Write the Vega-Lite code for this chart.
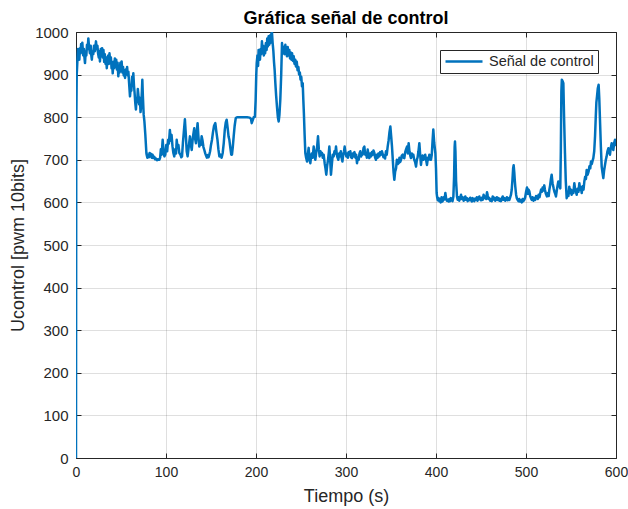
{
  "$schema": "https://vega.github.io/schema/vega-lite/v6.json",
  "autosize": {"type": "none"},
  "padding": {"left": 76, "top": 32, "right": 12, "bottom": 51},
  "width": 540,
  "height": 426,
  "background": "white",
  "title": {"text": "Gráfica señal de control", "font": "Liberation Sans", "fontSize": 18, "fontWeight": "bold", "color": "#000000", "anchor": "middle", "frame": "group", "offset": -3},
  "config": {
    "view": {"stroke": "#262626", "strokeWidth": 1},
    "axis": {
      "domain": false,
      "grid": true, "gridColor": "#262626", "gridOpacity": 0.15, "gridWidth": 1,
      "ticks": true, "tickColor": "#262626", "tickSize": -5, "tickWidth": 1,
      "labelFont": "Liberation Sans", "labelFontSize": 15, "labelColor": "#262626",
      "titleFont": "Liberation Sans", "titleFontSize": 18, "titleFontWeight": "normal", "titleColor": "#262626"
    },
    "legend": {
      "orient": "none", "legendX": 364, "legendY": 18,
      "strokeColor": "#262626", "fillColor": "white", "padding": 4, "cornerRadius": 0,
      "labelFont": "Liberation Sans", "labelFontSize": 14.5, "labelColor": "#262626", "labelOffset": 5,
      "symbolType": "stroke", "symbolSize": 1369, "symbolStrokeWidth": 2.5, "clipHeight": 15, "title": null
    }
  },
  "data": {"values": [
    {"t":0,"u":0},{"t":0.3,"u":780},{"t":0.8,"u":900},{"t":1.5,"u":930},{"t":2.2,"u":960},{"t":2.8,"u":940},{"t":3.7,"u":935},{"t":4.4,"u":962},{"t":5,"u":950},{"t":5.7,"u":972},{"t":6.3,"u":960},{"t":7,"u":975},{"t":8,"u":945},{"t":8.8,"u":960},{"t":9.4,"u":940},{"t":10,"u":927},{"t":10.8,"u":955},{"t":11.5,"u":945},{"t":12.2,"u":970},{"t":13,"u":960},{"t":13.7,"u":985},{"t":14.5,"u":965},{"t":15.5,"u":950},{"t":16.3,"u":968},{"t":17,"u":945},{"t":17.6,"u":935},{"t":18.4,"u":955},{"t":19.2,"u":948},{"t":20,"u":968},{"t":21,"u":955},{"t":22.2,"u":978},{"t":23,"u":960},{"t":23.8,"u":968},{"t":24.5,"u":950},{"t":25.3,"u":940},{"t":26,"u":955},{"t":26.6,"u":931},{"t":27.5,"u":960},{"t":28.3,"u":945},{"t":29,"u":962},{"t":29.8,"u":940},{"t":30.5,"u":958},{"t":31.3,"u":930},{"t":32,"u":948},{"t":32.8,"u":925},{"t":33.5,"u":940},{"t":34.2,"u":915},{"t":35,"u":938},{"t":35.8,"u":945},{"t":36.5,"u":925},{"t":37.2,"u":950},{"t":38,"u":930},{"t":38.8,"u":940},{"t":39.5,"u":915},{"t":40.2,"u":925},{"t":40.8,"u":903},{"t":41.6,"u":930},{"t":42.4,"u":915},{"t":43.2,"u":938},{"t":44,"u":920},{"t":44.7,"u":935},{"t":45.4,"u":912},{"t":46.2,"u":928},{"t":47,"u":896},{"t":47.8,"u":918},{"t":48.5,"u":905},{"t":49.3,"u":928},{"t":50,"u":912},{"t":50.7,"u":931},{"t":51.5,"u":905},{"t":52.3,"u":918},{"t":53,"u":898},{"t":53.8,"u":910},{"t":54.5,"u":892},{"t":55.3,"u":912},{"t":56,"u":900},{"t":56.8,"u":918},{"t":57.5,"u":898},{"t":58.2,"u":907},{"t":59,"u":880},{"t":60,"u":849},{"t":60.8,"u":870},{"t":61.5,"u":862},{"t":62.3,"u":895},{"t":63,"u":880},{"t":63.7,"u":903},{"t":64.4,"u":875},{"t":65,"u":860},{"t":65.8,"u":835},{"t":66.6,"u":818},{"t":67.3,"u":845},{"t":68,"u":835},{"t":68.7,"u":866},{"t":69.4,"u":850},{"t":70.2,"u":830},{"t":71,"u":845},{"t":71.7,"u":812},{"t":72.4,"u":825},{"t":73.2,"u":860},{"t":73.7,"u":888},{"t":74.3,"u":850},{"t":75.2,"u":806},{"t":76,"u":790},{"t":77,"u":760},{"t":78.2,"u":716},
    {"t":78.5,"u":712},{"t":79.3,"u":705},{"t":80.1,"u":712},{"t":81,"u":706},{"t":81.8,"u":716},{"t":82.6,"u":708},{"t":83.4,"u":714},{"t":84.2,"u":705},{"t":85,"u":712},{"t":86,"u":704},{"t":87,"u":707},{"t":88,"u":701},{"t":89,"u":703},{"t":90,"u":699},{"t":91,"u":701},{"t":92.6,"u":700},{"t":93.5,"u":705},{"t":94.3,"u":725},{"t":95.2,"u":712},{"t":96.3,"u":747},{"t":97.2,"u":720},{"t":98.2,"u":708},{"t":99.2,"u":712},{"t":100.3,"u":735},{"t":101.3,"u":720},{"t":102.4,"u":747},{"t":103.2,"u":738},{"t":104.3,"u":770},{"t":105.3,"u":745},{"t":106.2,"u":758},{"t":107.2,"u":732},{"t":108.2,"u":716},{"t":109.2,"u":708},{"t":110.2,"u":725},{"t":111.2,"u":715},{"t":111.9,"u":747},{"t":112.8,"u":728},{"t":113.8,"u":735},{"t":114.8,"u":716},{"t":116,"u":712},{"t":117,"u":706},{"t":117.8,"u":708},{"t":118.8,"u":740},{"t":120,"u":770},{"t":121,"u":795},{"t":122,"u":760},{"t":123,"u":720},{"t":124,"u":708},{"t":125,"u":725},{"t":125.8,"u":740},{"t":126.6,"u":755},{"t":127.7,"u":735},{"t":128.6,"u":723},{"t":129.5,"u":745},{"t":130.4,"u":760},{"t":131.4,"u":774},{"t":132.3,"u":750},{"t":133.3,"u":739},{"t":134.2,"u":765},{"t":135.1,"u":786},{"t":136,"u":755},{"t":137,"u":731},{"t":138,"u":742},{"t":138.8,"u":735},{"t":139.6,"u":755},{"t":140.6,"u":745},{"t":141.6,"u":730},{"t":142.6,"u":723},{"t":143.6,"u":715},{"t":144.5,"u":710},{"t":145.5,"u":705},{"t":146.5,"u":711},{"t":147.3,"u":706},{"t":148.1,"u":712},{"t":149,"u":720},{"t":150,"u":735},{"t":151.1,"u":747},{"t":152.2,"u":765},{"t":153.4,"u":780},{"t":154.8,"u":786},{"t":156,"u":765},{"t":157.2,"u":747},{"t":158.2,"u":725},{"t":159.3,"u":708},{"t":160.5,"u":712},{"t":161.8,"u":705},{"t":163,"u":716},{"t":164.2,"u":740},{"t":165.3,"u":770},{"t":166.4,"u":788},{"t":167.4,"u":794},{"t":168.5,"u":775},{"t":169.5,"u":755},{"t":170.4,"u":747},{"t":171.5,"u":728},{"t":172.5,"u":712},{"t":173.3,"u":712},{"t":174.2,"u":730},{"t":175.2,"u":755},{"t":176.3,"u":780},{"t":177.5,"u":798},{"t":179,"u":800},
    {"t":181.5,"u":800},{"t":186,"u":800},{"t":190,"u":800},{"t":193,"u":799},{"t":194.4,"u":796},{"t":195.2,"u":786},{"t":196.2,"u":792},{"t":197.5,"u":800},{"t":198.8,"u":801},{"t":199.6,"u":840},{"t":200.3,"u":900},{"t":200.8,"u":927},{"t":201.6,"u":945},{"t":202.3,"u":920},{"t":202.9,"u":958},{"t":203.6,"u":940},{"t":204.4,"u":935},{"t":205.1,"u":960},{"t":205.8,"u":948},{"t":206.6,"u":978},{"t":207.3,"u":955},{"t":208,"u":968},{"t":208.7,"u":945},{"t":209.4,"u":962},{"t":210.1,"u":950},{"t":211,"u":974},{"t":211.8,"u":958},{"t":212.5,"u":985},{"t":213.2,"u":966},{"t":214,"u":990},{"t":214.8,"u":970},{"t":215.5,"u":992},{"t":216.3,"u":975},{"t":217,"u":995},{"t":217.7,"u":1000},{"t":218.5,"u":974},{"t":219.3,"u":955},{"t":220,"u":930},{"t":220.7,"u":911},{"t":221.5,"u":880},{"t":222.4,"u":850},{"t":223.3,"u":825},{"t":224.3,"u":800},{"t":225.2,"u":790},{"t":226,"u":805},{"t":227,"u":841},{"t":228,"u":900},{"t":228.9,"u":974},{"t":229.8,"u":950},{"t":230.7,"u":965},{"t":231.6,"u":948},{"t":232.6,"u":970},{"t":233.5,"u":952},{"t":234.4,"u":943},{"t":235.2,"u":965},{"t":236.1,"u":945},{"t":237,"u":958},{"t":237.8,"u":938},{"t":238.6,"u":952},{"t":239.3,"u":935},{"t":240.1,"u":950},{"t":241,"u":932},{"t":241.9,"u":943},{"t":242.8,"u":925},{"t":243.6,"u":935},{"t":244.4,"u":919},{"t":245.3,"u":930},{"t":246.2,"u":910},{"t":247.1,"u":918},{"t":247.9,"u":900},{"t":248.7,"u":905},{"t":249.5,"u":888},{"t":250.3,"u":895},{"t":251.1,"u":872},{"t":251.9,"u":880},{"t":252.6,"u":840},{"t":253.2,"u":810},{"t":254,"u":760},{"t":254.8,"u":716},
    {"t":255.7,"u":705},{"t":256.7,"u":696},{"t":257.5,"u":712},{"t":258.5,"u":728},{"t":259.4,"u":700},{"t":260.4,"u":692},{"t":261.2,"u":708},{"t":262,"u":715},{"t":263,"u":705},{"t":264.1,"u":731},{"t":265,"u":712},{"t":265.9,"u":700},{"t":266.8,"u":715},{"t":267.9,"u":730},{"t":268.9,"u":755},{"t":269.8,"u":725},{"t":270.7,"u":708},{"t":271.6,"u":720},{"t":272.5,"u":712},{"t":273.3,"u":716},{"t":274.2,"u":705},{"t":275.2,"u":712},{"t":276.3,"u":692},{"t":277.2,"u":680},{"t":278.1,"u":665},{"t":279,"u":685},{"t":280,"u":700},{"t":280.8,"u":715},{"t":281.5,"u":731},{"t":282.4,"u":700},{"t":283.3,"u":665},{"t":284.3,"u":690},{"t":285.3,"u":712},{"t":286.3,"u":708},{"t":287.2,"u":720},{"t":288.1,"u":715},{"t":288.9,"u":731},{"t":289.8,"u":712},{"t":290.6,"u":705},{"t":291.5,"u":700},{"t":292.4,"u":715},{"t":293.3,"u":708},{"t":294.2,"u":720},{"t":295.1,"u":705},{"t":296,"u":696},{"t":296.9,"u":712},{"t":297.8,"u":720},{"t":298.5,"u":731},{"t":299.5,"u":715},{"t":300.4,"u":708},{"t":301.3,"u":715},{"t":302.2,"u":705},{"t":303,"u":718},{"t":303.9,"u":712},{"t":304.8,"u":720},{"t":305.7,"u":706},{"t":306.7,"u":704},{"t":307.6,"u":715},{"t":308.5,"u":708},{"t":309.4,"u":718},{"t":310.4,"u":705},{"t":311.3,"u":712},{"t":312.2,"u":692},{"t":313.2,"u":705},{"t":314.1,"u":700},{"t":315,"u":715},{"t":315.9,"u":720},{"t":316.8,"u":708},{"t":317.7,"u":716},{"t":318.5,"u":712},{"t":319.5,"u":728},{"t":320.4,"u":731},{"t":321.3,"u":712},{"t":322.2,"u":716},{"t":323.2,"u":705},{"t":324.1,"u":724},{"t":325,"u":712},{"t":325.9,"u":704},{"t":326.9,"u":715},{"t":327.9,"u":708},{"t":328.8,"u":718},{"t":329.6,"u":712},{"t":330.5,"u":722},{"t":331.5,"u":716},{"t":332.4,"u":705},{"t":333.3,"u":700},{"t":334.2,"u":712},{"t":335.1,"u":705},{"t":336,"u":715},{"t":337,"u":708},{"t":338,"u":718},{"t":339,"u":712},{"t":339.9,"u":720},{"t":340.7,"u":714},{"t":341.6,"u":706},{"t":342.5,"u":710},{"t":343.4,"u":703},{"t":344.4,"u":720},{"t":345.3,"u":712},{"t":346.3,"u":731},{"t":347.3,"u":745},{"t":348.3,"u":765},{"t":349.3,"u":778},{"t":350.2,"u":755},{"t":351.1,"u":731},{"t":352,"u":700},{"t":352.9,"u":670},{"t":353.7,"u":653},{"t":354.6,"u":672},{"t":355.6,"u":680},{"t":356.5,"u":700},{"t":357.5,"u":690},{"t":358.5,"u":692},{"t":359.4,"u":705},{"t":360.3,"u":695},{"t":361.1,"u":700},{"t":362,"u":710},{"t":363,"u":712},{"t":363.9,"u":705},{"t":364.8,"u":704},{"t":365.8,"u":718},{"t":366.8,"u":725},{"t":367.8,"u":731},{"t":368.7,"u":715},{"t":369.6,"u":739},{"t":370.5,"u":720},{"t":371.4,"u":710},{"t":372.2,"u":704},{"t":373.1,"u":715},{"t":374,"u":708},{"t":374.8,"u":712},{"t":375.8,"u":700},{"t":376.8,"u":695},{"t":377.8,"u":684},{"t":378.7,"u":700},{"t":379.5,"u":705},{"t":380.5,"u":720},{"t":381.5,"u":739},{"t":382.4,"u":712},{"t":383.3,"u":688},{"t":384.2,"u":705},{"t":385,"u":710},{"t":386,"u":700},{"t":387,"u":704},{"t":388,"u":712},{"t":389,"u":700},{"t":390,"u":688},{"t":391,"u":705},{"t":391.8,"u":700},{"t":392.6,"u":712},{"t":393.5,"u":705},{"t":394.4,"u":700},{"t":395.3,"u":712},{"t":396.2,"u":745},{"t":397,"u":771},{"t":398,"u":740},{"t":399.3,"u":716},{"t":400,"u":680},{"t":400.7,"u":622},
    {"t":401.3,"u":612},{"t":402,"u":605},{"t":402.8,"u":610},{"t":403.7,"u":603},{"t":404.5,"u":608},{"t":405.3,"u":600},{"t":406.2,"u":612},{"t":407,"u":602},{"t":407.9,"u":605},{"t":408.7,"u":612},{"t":409.5,"u":607},{"t":410.4,"u":622},{"t":411.2,"u":610},{"t":412.1,"u":604},{"t":413,"u":606},{"t":413.9,"u":602},{"t":414.8,"u":608},{"t":415.7,"u":603},{"t":416.6,"u":610},{"t":417.5,"u":606},{"t":418.4,"u":603},{"t":419.3,"u":614},{"t":420.1,"u":660},{"t":420.7,"u":730},{"t":421.1,"u":743},{"t":421.6,"u":720},{"t":422.3,"u":650},{"t":423.3,"u":614},{"t":424.1,"u":606},{"t":425,"u":612},{"t":425.9,"u":604},{"t":426.8,"u":610},{"t":427.8,"u":618},{"t":428.7,"u":608},{"t":429.7,"u":612},{"t":430.7,"u":604},{"t":431.6,"u":609},{"t":432.5,"u":614},{"t":433.4,"u":606},{"t":434.3,"u":610},{"t":435.2,"u":603},{"t":436.1,"u":608},{"t":437,"u":605},{"t":438,"u":611},{"t":438.9,"u":606},{"t":439.8,"u":602},{"t":440.7,"u":610},{"t":441.6,"u":606},{"t":442.5,"u":603},{"t":443.5,"u":609},{"t":444.4,"u":606},{"t":445.3,"u":612},{"t":446.2,"u":604},{"t":447.2,"u":610},{"t":448.1,"u":614},{"t":449,"u":607},{"t":450,"u":605},{"t":450.9,"u":611},{"t":451.9,"u":606},{"t":452.9,"u":618},{"t":453.8,"u":610},{"t":454.8,"u":614},{"t":455.7,"u":608},{"t":456.7,"u":624},{"t":457.6,"u":615},{"t":458.4,"u":608},{"t":459.3,"u":610},{"t":460.2,"u":604},{"t":461,"u":607},{"t":462,"u":603},{"t":463,"u":614},{"t":464,"u":607},{"t":464.9,"u":611},{"t":465.8,"u":604},{"t":466.7,"u":606},{"t":467.6,"u":612},{"t":468.5,"u":606},{"t":469.5,"u":610},{"t":470.4,"u":604},{"t":471.3,"u":608},{"t":472.2,"u":603},{"t":473.2,"u":609},{"t":474.1,"u":614},{"t":475,"u":606},{"t":476,"u":610},{"t":476.9,"u":604},{"t":477.8,"u":606},{"t":478.7,"u":612},{"t":479.6,"u":605},{"t":480.5,"u":610},{"t":481.5,"u":606},{"t":482.4,"u":612},{"t":483.3,"u":618},{"t":484.1,"u":629},{"t":485,"u":655},{"t":485.7,"u":680},{"t":486.3,"u":687},{"t":487,"u":670},{"t":487.6,"u":650},{"t":488.1,"u":637},{"t":489,"u":618},{"t":489.8,"u":610},{"t":490.7,"u":606},{"t":491.6,"u":603},{"t":492.5,"u":608},{"t":493.5,"u":602},{"t":494.4,"u":605},{"t":495.3,"u":600},{"t":496.2,"u":608},{"t":497.1,"u":603},{"t":498.1,"u":606},{"t":499.1,"u":612},{"t":500.1,"u":625},{"t":501.1,"u":635},{"t":502,"u":620},{"t":502.9,"u":630},{"t":503.7,"u":626},{"t":504.6,"u":615},{"t":505.5,"u":610},{"t":506.3,"u":606},{"t":507.3,"u":612},{"t":508.3,"u":604},{"t":509.3,"u":610},{"t":510.2,"u":606},{"t":511.2,"u":615},{"t":512.2,"u":614},{"t":513.1,"u":608},{"t":514,"u":618},{"t":515,"u":612},{"t":515.9,"u":622},{"t":516.8,"u":630},{"t":517.7,"u":625},{"t":518.5,"u":635},{"t":519.4,"u":628},{"t":520.3,"u":640},{"t":521.1,"u":629},{"t":522.1,"u":620},{"t":523.3,"u":614},{"t":524.3,"u":622},{"t":525.2,"u":615},{"t":525.9,"u":629},{"t":526.8,"u":640},{"t":527.7,"u":655},{"t":528.5,"u":665},{"t":529.5,"u":645},{"t":530.7,"u":633},{"t":531.6,"u":625},{"t":532.5,"u":620},{"t":533.3,"u":614},{"t":534.2,"u":628},{"t":535.1,"u":640},{"t":535.9,"u":649},{"t":537,"u":640},{"t":538.1,"u":633},{"t":538.7,"u":720},{"t":539.3,"u":860},{"t":539.8,"u":888},{"t":540.6,"u":885},{"t":541.5,"u":880},{"t":542.3,"u":800},{"t":543.3,"u":716},{"t":544.2,"u":650},{"t":545.2,"u":610},
    {"t":546.2,"u":625},{"t":547.1,"u":615},{"t":548.1,"u":637},{"t":549,"u":622},{"t":549.9,"u":630},{"t":550.7,"u":618},{"t":551.6,"u":628},{"t":552.6,"u":622},{"t":553.7,"u":645},{"t":554.6,"u":630},{"t":555.5,"u":625},{"t":556.3,"u":618},{"t":557.3,"u":632},{"t":558.3,"u":625},{"t":559.3,"u":645},{"t":560.2,"u":630},{"t":561,"u":635},{"t":561.9,"u":622},{"t":562.9,"u":638},{"t":563.9,"u":630},{"t":564.8,"u":649},{"t":565.7,"u":660},{"t":566.6,"u":655},{"t":567.4,"u":676},{"t":568.5,"u":665},{"t":569.6,"u":673},{"t":570.5,"u":685},{"t":571.4,"u":680},{"t":572.2,"u":696},{"t":573.1,"u":690},{"t":574,"u":698},{"t":574.8,"u":704},{"t":575.8,"u":720},{"t":576.7,"u":755},{"t":577.5,"u":800},{"t":578.2,"u":835},{"t":578.9,"u":849},{"t":579.8,"u":868},{"t":580.7,"u":876},{"t":581.4,"u":845},{"t":582.2,"u":794},{"t":583.2,"u":730},{"t":584.1,"u":684},{"t":585,"u":670},{"t":585.9,"u":657},{"t":586.8,"u":675},{"t":587.8,"u":688},{"t":588.7,"u":700},{"t":589.6,"u":708},{"t":590.5,"u":720},{"t":591.5,"u":727},{"t":592.4,"u":718},{"t":593.3,"u":712},{"t":594.2,"u":728},{"t":595.2,"u":739},{"t":596.1,"u":730},{"t":597,"u":723},{"t":598,"u":740},{"t":598.9,"u":747},{"t":599.5,"u":735},{"t":600,"u":743}
  ]},
  "layer": [
    {
      "mark": {"type": "line", "strokeWidth": 2.5, "strokeJoin": "round", "clip": true},
      "encoding": {
        "x": {"field": "t", "type": "quantitative", "scale": {"domain": [0, 600], "nice": false, "zero": false},
              "axis": {"values": [0,100,200,300,400,500,600], "format": "d", "title": "Tiempo (s)", "labelFontSize": 14, "labelPadding": 12, "titleY": 43, "titleBaseline": "alphabetic", "labelFlush": false}},
        "y": {"field": "u", "type": "quantitative", "scale": {"domain": [0, 1000], "nice": false},
              "axis": {"values": [0,100,200,300,400,500,600,700,800,900,1000], "format": "d", "title": "Ucontrol [pwm 10bits]", "labelPadding": 13, "titleX": -58, "titleY": 213, "titleBaseline": "middle", "titleAngle": 270, "labelFlush": false}},
        "color": {"datum": "Señal de control", "type": "nominal", "scale": {"range": ["#0072BD"]}}
      }
    },
    {
      "mark": {"type": "line", "opacity": 0},
      "encoding": {
        "x": {"field": "t", "type": "quantitative", "axis": {"orient": "top", "values": [0,100,200,300,400,500,600], "labels": false, "title": null, "grid": false, "minExtent": 0, "maxExtent": 0}},
        "y": {"field": "u", "type": "quantitative", "axis": {"orient": "right", "values": [0,100,200,300,400,500,600,700,800,900,1000], "labels": false, "title": null, "grid": false, "minExtent": 0, "maxExtent": 0}}
      }
    }
  ],
  "resolve": {"axis": {"x": "independent", "y": "independent"}}
}
